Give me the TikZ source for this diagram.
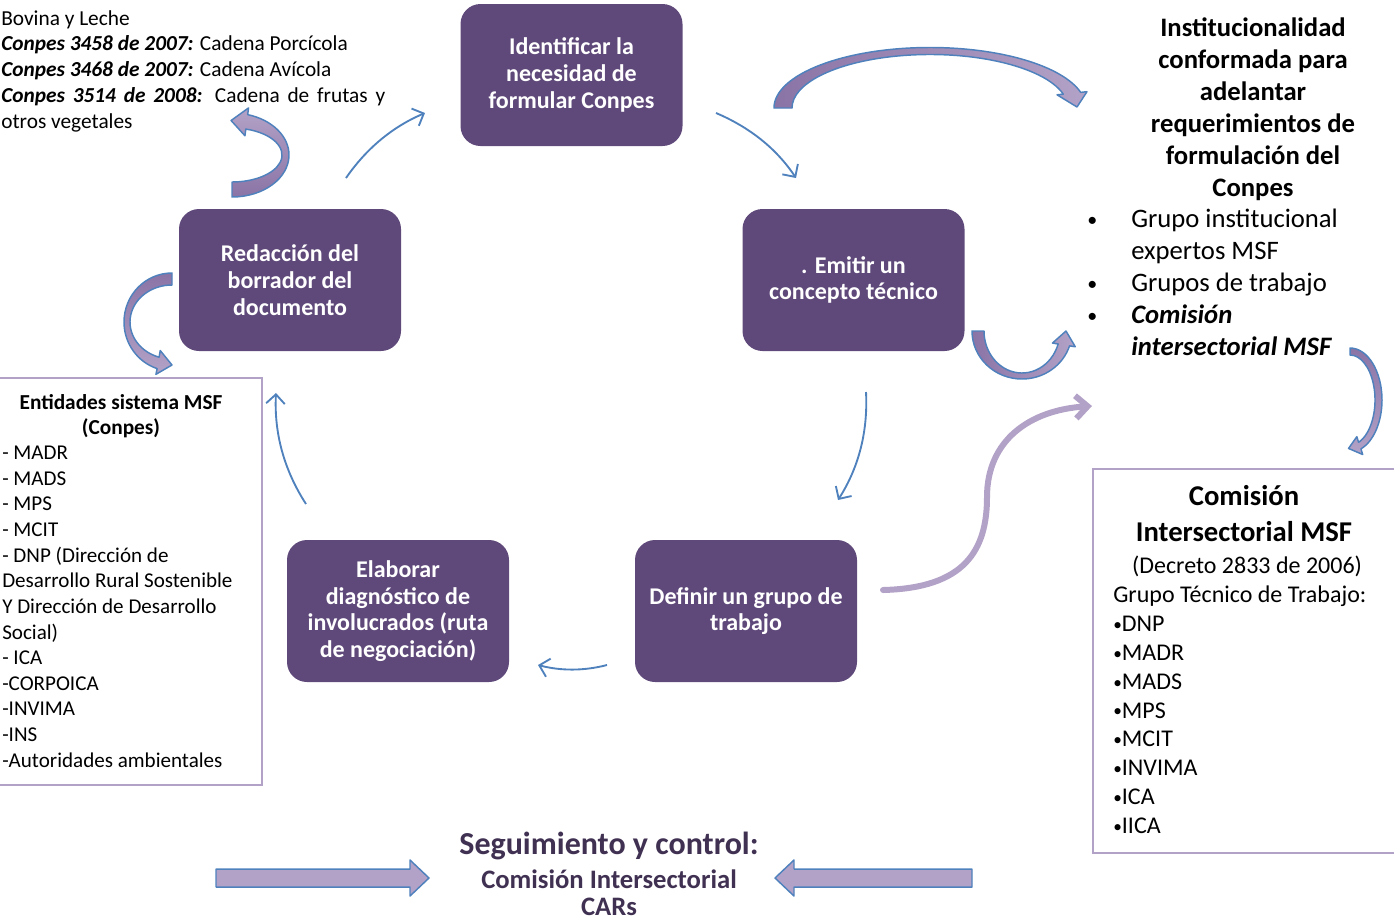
\documentclass[tikz,border=0pt]{standalone}
\usepackage{fontspec}
\setmainfont{Carlito}
\usetikzlibrary{arrows.meta}
\definecolor{boxpurple}{HTML}{5F497A}
\definecolor{arrowblue}{HTML}{4F81BD}
\definecolor{lilac}{HTML}{B3A2C7}
\definecolor{lilacdark}{HTML}{8A74A6}
\definecolor{textpurple}{HTML}{403152}
\newcommand{\myfs}[2]{\fontsize{#1}{#2}\selectfont}
\newcommand{\smallbul}{{\fontsize{13}{13}\selectfont\raisebox{1pt}{•}}}
\newcommand{\listbul}{{\fontsize{15}{15}\selectfont\raisebox{1pt}{•}}}
\begin{document}
\begin{tikzpicture}[x=0.75pt,y=-0.75pt,
  pbox/.style={rounded corners=15pt, fill=boxpurple, text=white, minimum width=166.5pt,
    minimum height=106.5pt, align=center, font=\bfseries\myfs{18}{20}, inner sep=0pt},
  thinarrow/.style={draw=arrowblue, line width=1.4pt,
    -{Straight Barb[length=7pt,width=14pt,line width=1.4pt]}},
  barrow/.style={draw=arrowblue, line width=1.1pt, line join=round},
  outlinebox/.style={draw=lilac, line width=1.2pt, inner sep=0pt},
  txt/.style={inner sep=0pt, text=black}
]
\useasboundingbox (0,0) rectangle (1394,922);

% ---------- top-left text ----------
\node[txt, anchor=north west, text width=288pt, align=justify, font=\myfs{16}{19.3}] (conpes) at (1,10)
 {Bovina y Leche\\
  \textbf{\textit{Conpes 3458 de 2007:}} Cadena Porcícola\\
  \textbf{\textit{Conpes 3468 de 2007:}} Cadena Avícola\\
  \textbf{\textit{Conpes 3514 de 2008:}} Cadena de frutas y\linebreak otros vegetales};

% ---------- purple process boxes ----------
\node[pbox] (ident) at (571.5,75) {Identificar la\\necesidad de\\formular Conpes};
\node[pbox] (emit)  at (853.5,280) {. Emitir un\\concepto técnico};
\node[pbox] (defin) at (746,611) {Definir un grupo de\\trabajo};
\node[pbox] (elab)  at (398,611) {Elaborar\\diagnóstico de\\involucrados (ruta\\de negociación)};
\node[pbox] (redac) at (290,280) {Redacción del\\borrador del\\documento};

% ---------- thin cycle arrows ----------
\coordinate (ri1) at (346,178); \coordinate (ri2) at (425,113);
\coordinate (ie1) at (716,113); \coordinate (ie2) at (796,178);
\coordinate (ed1) at (866,392); \coordinate (ed2) at (838,500);
\coordinate (de1) at (607,665); \coordinate (de2) at (538,665);
\coordinate (er1) at (306,504); \coordinate (er2) at (276,393);
\draw[thinarrow] (ri1) .. controls (366,149) and (392,127) .. (ri2);
\draw[thinarrow] (ie1) .. controls (749,127) and (776,148) .. (ie2);
\draw[thinarrow] (ed1) .. controls (868,431) and (859,467) .. (ed2);
\draw[thinarrow] (de1) .. controls (584,671) and (561,671) .. (de2);
\draw[thinarrow] (er1) .. controls (284,470) and (274,433) .. (er2);

% ---------- curved block arrows ----------
\begin{scope}[shift={(930,108)}]
\path[barrow, left color=lilacdark, right color=lilac]
  (180:156 and 60.5) arc[start angle=180,end angle=345,x radius=156,y radius=60.5]
  -- (345:162.5 and 63) -- (359:147 and 57) -- (345:131.5 and 51) -- (345:138 and 53.5)
  arc[start angle=345,end angle=180,x radius=138,y radius=53.5] -- cycle;
\end{scope}
\begin{scope}[shift={(1022,331)}]
\path[barrow, left color=lilacdark, right color=lilac]
  (180:50 and 48) arc[start angle=180,end angle=18,x radius=50,y radius=48]
  -- (18:56 and 51) -- (0:44 and 45) -- (18:32 and 39) -- (18:38 and 42)
  arc[start angle=18,end angle=180,x radius=38,y radius=42] -- cycle;
\end{scope}
\begin{scope}[shift={(232,155)}]
\path[barrow, top color=lilac, bottom color=lilacdark]
  (90:57 and 42) arc[start angle=90,end angle=-74,x radius=57,y radius=42]
  -- (-74:60 and 49) -- (-91:53.5 and 34.5) -- (-74:47 and 20) -- (-74:50 and 27)
  arc[start angle=-74,end angle=90,x radius=50,y radius=27] -- cycle;
\end{scope}
\begin{scope}[shift={(172,322)}]
\path[barrow, top color=lilacdark, bottom color=lilac]
  (270:48 and 49) arc[start angle=270,end angle=108,x radius=48,y radius=49]
  -- (108:52 and 55) -- (90:45 and 43) -- (108:38 and 30) -- (108:42 and 37)
  arc[start angle=108,end angle=270,x radius=42,y radius=37] -- cycle;
\end{scope}
\begin{scope}[shift={(1350,400)}]
\path[barrow, top color=lilacdark, bottom color=lilac]
  (-90:32 and 52) arc[start angle=-90,end angle=70,x radius=32,y radius=52]
  -- (70:37 and 58) -- (93:28.5 and 48.5) -- (70:20 and 39) -- (70:25 and 45)
  arc[start angle=70,end angle=-90,x radius=25,y radius=45] -- cycle;
\end{scope}

% ---------- S curve ----------
\coordinate (s1) at (883,590); \coordinate (s2) at (1092,406);
\draw[lilac, line width=4.5pt, line cap=round,
  -{Straight Barb[length=9pt,width=17pt,line width=4.5pt]}]
  (s1) .. controls (965,588) and (987,550) .. (987,497)
       .. controls (987,440) and (1030,410) .. (s2);

% ---------- bottom straight block arrows ----------
\path[barrow, fill=lilac] (216,869) -- (410,869) -- (410,860) -- (429,878) -- (410,896)
  -- (410,887) -- (216,887) -- cycle;
\path[barrow, fill=lilac] (972,869) -- (794,869) -- (794,860) -- (775,878) -- (794,896)
  -- (794,887) -- (972,887) -- cycle;

% ---------- right top text ----------
\node[txt, anchor=north, align=center, font=\bfseries\myfs{20}{24}] (inst) at (1253,17)
 {Institucionalidad\\conformada para\\adelantar\\requerimientos de\\formulación del\\Conpes};
\node[txt, anchor=north west, align=left, font=\myfs{20}{24}] (instlist) at (1131,209)
 {\llap{\makebox[33pt][l]{\listbul}}Grupo institucional\\
  expertos MSF\\
  \llap{\makebox[33pt][l]{\listbul}}Grupos de trabajo\\
  \llap{\makebox[33pt][l]{\listbul}}\textbf{\textit{Comisión}}\\
  \textbf{\textit{intersectorial MSF}}};

% ---------- Entidades box ----------
\node[outlinebox, minimum width=200.25pt, minimum height=305.25pt] (entbox) at (128.5,581.5) {};
\node[txt, anchor=north, align=center, font=\bfseries\myfs{16}{19.2}] (enthead) at (121,394)
 {Entidades sistema MSF\\(Conpes)};
\node[txt, anchor=north west, align=left, font=\myfs{15.8}{19.2}] (entlist) at (2,446)
 {- MADR\\- MADS\\- MPS\\- MCIT\\- DNP (Dirección de\\Desarrollo Rural Sostenible\\Y Dirección de Desarrollo\\Social)\\- ICA\\-CORPOICA\\-INVIMA\\-INS\\-Autoridades ambientales};

% ---------- Comisión box ----------
\node[outlinebox, minimum width=230.25pt, minimum height=288pt] (combox) at (1246.5,661) {};
\node[txt, anchor=north, align=center, font=\bfseries\myfs{21.5}{27}] (comtitle) at (1244,485)
 {Comisión\\Intersectorial MSF};
\node[txt, anchor=north, font=\myfs{18}{21.6}] (decreto) at (1247,556) {(Decreto 2833 de 2006)};
\node[txt, anchor=north west, align=left, font=\myfs{18}{21.6}] (comlist) at (1113,586)
 {Grupo Técnico de Trabajo:\\\smallbul DNP\\\smallbul MADR\\\smallbul MADS\\\smallbul MPS\\\smallbul MCIT\\\smallbul INVIMA\\\smallbul ICA\\\smallbul IICA};

% ---------- bottom text ----------
\node[txt, anchor=north, align=center, text=textpurple, font=\bfseries\myfs{20}{20.5}] (seg) at (609,832)
 {{\myfs{24}{22.5}Seguimiento y control:}\\[4.5pt]Comisión Intersectorial\\CARs};
\end{tikzpicture}
\end{document}
